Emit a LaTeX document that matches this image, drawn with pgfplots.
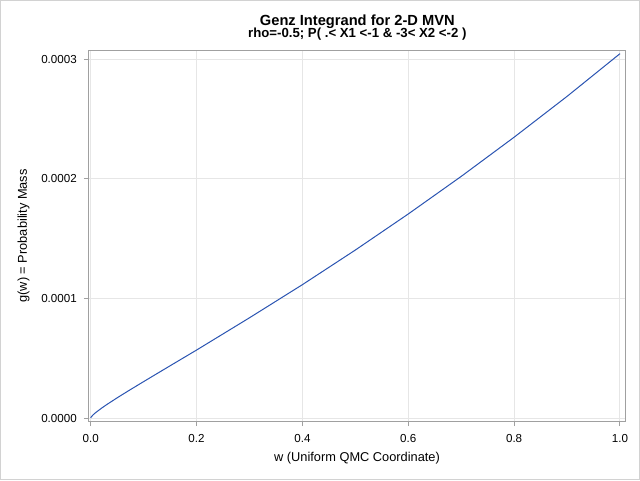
\documentclass[border=0pt]{standalone}
\usepackage{pgfplots}
\pgfplotsset{compat=1.18}
\usepackage{fontspec}
\setmainfont{Liberation Sans}
\definecolor{sasblue}{RGB}{42,84,178}
\definecolor{gridgray}{RGB}{230,230,230}
\definecolor{framegray}{RGB}{160,160,160}
\begin{document}
\begin{tikzpicture}
\useasboundingbox (0,0) rectangle (480pt,360pt);
\fill[white] (0,0) rectangle (480pt,360pt);
\draw[gray!35, line width=0.75pt] (0.375pt,0.375pt) rectangle (479.625pt,359.625pt);
\begin{axis}[
  at={(66.75pt,44.25pt)}, anchor=south west,
  scale only axis, width=402pt, height=277.7pt,
  xmin=-0.0032, xmax=1.00945,
  ymin=-0.0000025, ymax=0.00030694,
  xtick={0,0.2,0.4,0.6,0.8,1.0},
  ytick={0,0.0001,0.0002,0.0003},
  scaled y ticks=false, scaled x ticks=false,
  xticklabel style={/pgf/number format/fixed, /pgf/number format/fixed zerofill, /pgf/number format/precision=1},
  yticklabel style={/pgf/number format/fixed, /pgf/number format/fixed zerofill, /pgf/number format/precision=4},
  /pgf/number format/assume math mode=true,
  tick label style={font=\fontsize{8.7}{10}\selectfont, text=black},
  every y tick label/.append style={anchor=east, inner sep=0pt, xshift=-5.25pt},
  every x tick label/.append style={anchor=north, inner sep=0pt, yshift=-6.25pt},
  tick pos=left,
  tick align=outside, major tick length=3.75pt,
  tick style={framegray, line width=0.75pt},
  axis line style={framegray, line width=0.75pt},
  grid=major, major grid style={gridgray, line width=0.75pt},
  xlabel={w (Uniform QMC Coordinate)},
  ylabel={g(w) = Probability Mass},
  label style={font=\fontsize{9.6}{11}\selectfont},
  xlabel style={at={(axis description cs:0.5,0)}, anchor=base, inner sep=0pt, yshift=-30.5pt},
  ylabel style={at={(axis description cs:0,0.5)}, anchor=base, inner sep=0pt, yshift=46.5pt},
]
\addplot[sasblue, line width=0.75pt] coordinates {
(0,0) (0.001,9.1e-7) (0.005,2.84e-6) (0.01,4.74e-6) (0.02,8.07e-6)
(0.03,1.113e-5) (0.05,1.688e-5) (0.07,2.238e-5) (0.1,3.042e-5)
(0.15,4.364e-5) (0.2,5.679e-5) (0.3,8.376e-5) (0.4,1.1145e-4)
(0.5,1.4038e-4) (0.6,1.7052e-4) (0.7,2.0192e-4) (0.8,2.3468e-4)
(0.9,2.688e-4) (1.0,3.045e-4)
};
\end{axis}
\node[anchor=base, font=\fontsize{11}{13}\selectfont\bfseries] at (268pt,341.25pt) {Genz Integrand for 2-D MVN};
\node[anchor=base, font=\fontsize{9.9}{11}\selectfont\bfseries] at (268pt,332pt) {rho=-0.5; P( .< X1 <-1 \& -3< X2 <-2 )};
\end{tikzpicture}
\end{document}
